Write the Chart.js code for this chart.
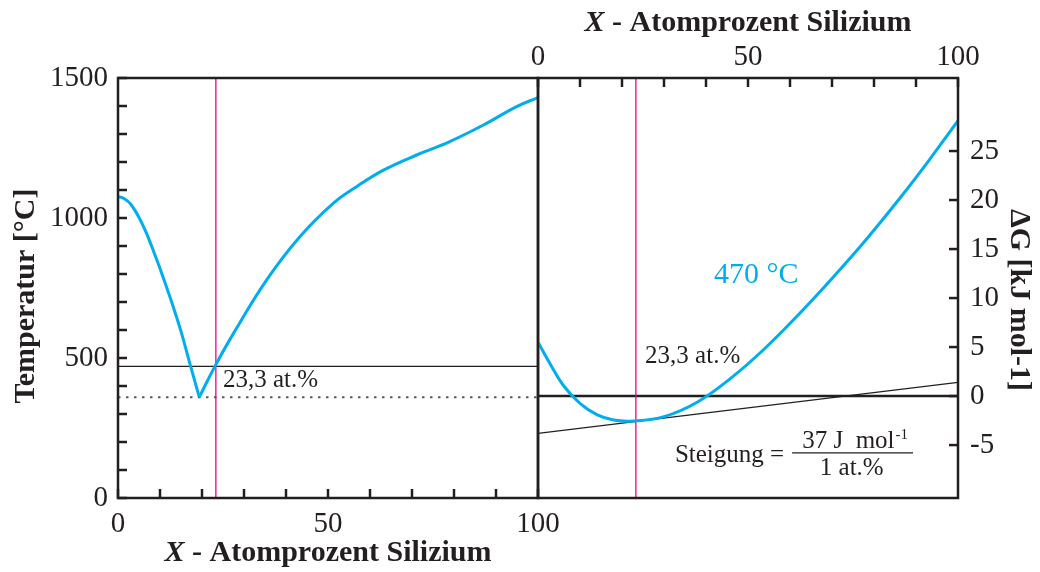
<!DOCTYPE html>
<html>
<head>
<meta charset="utf-8">
<script src="https://cdn.jsdelivr.net/npm/chart.js@4/dist/chart.umd.min.js"></script>
<style>
    html, body { margin: 0; padding: 0; background: #fff; }
    #wrap { position: relative; width: 1040px; height: 572px; }
    #wrap canvas { position: absolute; left: 0; top: 0; }
</style>
</head>
<body>
<div id="wrap">
    <canvas id="phaseChart" width="1040" height="572"></canvas>
    <canvas id="energyChart" width="1040" height="572"></canvas>
</div>
<script>
// Phase diagram (left) - liquidus split at the eutectic point
const liqGoldX = [0, 1, 2, 3, 4, 5, 6, 7, 8.5, 10, 12.5, 15, 17.3, 19.35];
const liqGoldT = [1076, 1073, 1064, 1050, 1028, 1002, 972, 938, 880, 820, 712, 595, 470, 360];
const liqSiX = [19.35, 23.1, 27.5, 35.4, 43.3, 51.3, 56.8, 63.2, 71.1, 79, 87, 94.9, 100];
const liqSiT = [360, 471, 588, 779, 933, 1053, 1112, 1171, 1225, 1273, 1332, 1398, 1430];
const isothermT = 470;
const eutecticT = 360;
const markX = 23.3;

// Free enthalpy of the melt at 470 °C (right)
const dgX = [0, 3, 6, 10, 14, 18, 22.7, 30, 38, 46, 54, 62, 70, 78, 86, 93, 100];
const dgY = [5.5, 3.2, 1.1, -0.75, -1.9, -2.45, -2.55, -2.1, -0.6, 1.85, 4.85, 8.3, 12.0, 15.9, 20.1, 24.0, 28.1];
const tangentX = [0, 100];
const tangentY = [-3.8, 1.4];

// Tick labels
const compLabels = [0, 50, 100];
const tempLabels = [0, 500, 1000, 1500];
const dgTicks = [-5, 0, 5, 10, 15, 20, 25];

const INK = '#231f20';
const CYAN = '#00aeef';
const MAGENTA = '#ec008c';
const SERIF = "'Liberation Serif', 'Times New Roman', serif";

Chart.defaults.font.family = SERIF;
Chart.defaults.color = INK;

const pts = (xs, ys) => xs.map((x, i) => ({ x, y: ys[i] }));

// fixed axis box sizes, no automatic label padding
function fixBox(size) {
    return (scale) => {
        if (scale.isHorizontal()) scale.height = size; else scale.width = size;
        scale.paddingLeft = scale.paddingRight = scale.paddingTop = scale.paddingBottom = 0;
    };
}

// frame round the plot and ticks pointing inwards
const frameTicks = {
    id: 'frameTicks',
    afterDatasetsDraw(chart) {
        const { ctx, chartArea: a } = chart;
        const len = 9;
        ctx.save();
        ctx.strokeStyle = INK;
        ctx.lineWidth = 2.5;
        Object.values(chart.scales).forEach(scale => {
            scale.ticks.forEach(t => {
                const p = scale.getPixelForValue(t.value);
                ctx.beginPath();
                if (scale.position === 'bottom') { ctx.moveTo(p, a.bottom); ctx.lineTo(p, a.bottom - len); }
                else if (scale.position === 'top') { ctx.moveTo(p, a.top); ctx.lineTo(p, a.top + len); }
                else if (scale.position === 'left') { ctx.moveTo(a.left, p); ctx.lineTo(a.left + len, p); }
                else { ctx.moveTo(a.right, p); ctx.lineTo(a.right - len, p); }
                ctx.stroke();
            });
        });
        ctx.strokeRect(a.left, a.top, a.right - a.left, a.bottom - a.top);
        ctx.restore();
    }
};

// text notes placed in data units
const notes = {
    id: 'notes',
    afterDatasetsDraw(chart, args, opts) {
        const { ctx } = chart;
        const sx = chart.scales.x, sy = chart.scales.y;
        ctx.save();
        (opts.items || []).forEach(n => {
            const py = sy.getPixelForValue(n.y);
            if (n.rule) {
                ctx.strokeStyle = INK;
                ctx.lineWidth = 1.2;
                ctx.beginPath();
                ctx.moveTo(sx.getPixelForValue(n.x), py);
                ctx.lineTo(sx.getPixelForValue(n.x2), py);
                ctx.stroke();
                return;
            }
            const px = sx.getPixelForValue(n.x);
            ctx.font = (n.size || 25) + 'px ' + SERIF;
            ctx.fillStyle = n.color || INK;
            ctx.textAlign = 'left';
            ctx.textBaseline = 'alphabetic';
            ctx.fillText(n.text, px, py);
            if (n.sup) {
                const w = ctx.measureText(n.text).width;
                ctx.font = '15px ' + SERIF;
                ctx.fillText(n.sup, px + w + 1, py - 9);
            }
        });
        ctx.restore();
    }
};

// axis titles with mixed fonts
const captions = {
    id: 'captions',
    afterDraw(chart, args, opts) {
        const { ctx, chartArea: a } = chart;
        ctx.save();
        (opts.items || []).forEach(c => {
            let x = (a.left + a.right) / 2, y = (a.top + a.bottom) / 2, rot = 0;
            if (c.side === 'bottom') y = a.bottom + c.gap;
            if (c.side === 'top') y = a.top - c.gap;
            if (c.side === 'left') { x = a.left - c.gap; y += c.shift || 0; rot = -Math.PI / 2; }
            if (c.side === 'right') { x = a.right + c.gap; y += c.shift || 0; rot = Math.PI / 2; }
            ctx.save();
            ctx.translate(x, y);
            ctx.rotate(rot);
            ctx.fillStyle = INK;
            ctx.textBaseline = 'middle';
            ctx.textAlign = 'left';
            let total = 0;
            c.parts.forEach(p => { ctx.font = p.font; total += ctx.measureText(p.text).width; });
            let cur = -total / 2;
            c.parts.forEach(p => {
                ctx.font = p.font;
                ctx.fillText(p.text, cur, 0);
                cur += ctx.measureText(p.text).width;
            });
            ctx.restore();
        });
        ctx.restore();
    }
};

const compTitle = [
    { text: 'X', font: 'italic bold 30px ' + SERIF },
    { text: ' - Atomprozent Silizium', font: 'bold 30px ' + SERIF }
];

const tickFont = { size: 29 };

// Left: phase diagram
new Chart(document.getElementById('phaseChart'), {
    type: 'line',
    data: {
        datasets: [
            { data: pts(liqGoldX, liqGoldT), borderColor: CYAN, borderWidth: 3, cubicInterpolationMode: 'monotone' },
            { data: pts(liqSiX, liqSiT), borderColor: CYAN, borderWidth: 3, tension: 0.4 },
            { data: pts([markX, markX], [0, 1500]), borderColor: MAGENTA, borderWidth: 1.3 },
            { data: pts([0, 100], [isothermT, isothermT]), borderColor: INK, borderWidth: 1.3 },
            { data: pts([0, 100], [eutecticT, eutecticT]), borderColor: '#58595b', borderWidth: 2, borderDash: [2.5, 5.5] }
        ]
    },
    options: {
        responsive: false,
        animation: false,
        devicePixelRatio: 1,
        layout: { padding: { left: 0, top: 78, right: 502, bottom: 0 } },
        elements: { point: { radius: 0 } },
        plugins: {
            legend: { display: false },
            tooltip: { enabled: false },
            notes: { items: [{ x: 25, y: 396, text: '23,3 at.%' }] },
            captions: {
                items: [
                    { side: 'bottom', gap: 55, parts: compTitle },
                    { side: 'left', gap: 92, shift: 8, parts: [{ text: 'Temperatur [°C]', font: 'bold 30px ' + SERIF }] }
                ]
            }
        },
        scales: {
            x: {
                type: 'linear', position: 'bottom', min: 0, max: 100,
                grid: { display: false, drawTicks: false },
                border: { display: false },
                ticks: {
                    stepSize: 10, autoSkip: false, maxRotation: 0, padding: 9, font: tickFont,
                    callback: v => compLabels.includes(v) ? v : ''
                },
                afterFit: fixBox(74)
            },
            y: {
                type: 'linear', position: 'left', min: 0, max: 1500,
                grid: { display: false, drawTicks: false },
                border: { display: false },
                ticks: {
                    stepSize: 100, autoSkip: false, padding: 10, font: tickFont,
                    callback: v => tempLabels.includes(v) ? v : ''
                },
                afterFit: fixBox(118)
            }
        }
    },
    plugins: [frameTicks, notes, captions]
});

// Right: ΔG at 470 °C
new Chart(document.getElementById('energyChart'), {
    type: 'line',
    data: {
        datasets: [
            { data: pts(dgX, dgY), borderColor: CYAN, borderWidth: 3, tension: 0.4 },
            { data: pts(tangentX, tangentY), borderColor: INK, borderWidth: 1.3 },
            { data: pts([markX, markX], [-10.4, 32.45]), borderColor: MAGENTA, borderWidth: 1.3 },
            { data: pts([0, 100], [0, 0]), borderColor: INK, borderWidth: 2.5 }
        ]
    },
    options: {
        responsive: false,
        animation: false,
        devicePixelRatio: 1,
        layout: { padding: { left: 538, top: 0, right: 0, bottom: 74 } },
        elements: { point: { radius: 0 } },
        plugins: {
            legend: { display: false },
            tooltip: { enabled: false },
            notes: {
                items: [
                    { x: 25.5, y: 3.37, text: '23,3 at.%' },
                    { x: 41.9, y: 11.5, text: '470 °C', size: 30, color: CYAN },
                    { x: 32.6, y: -6.73, text: 'Steigung =' },
                    { x: 62.9, y: -5.31, text: '37 J  mol', sup: '-1' },
                    { rule: true, x: 60.5, x2: 89.3, y: -5.79 },
                    { x: 67.1, y: -8.06, text: '1 at.%' }
                ]
            },
            captions: {
                items: [
                    { side: 'top', gap: 55, parts: compTitle },
                    { side: 'right', gap: 61, shift: 12, parts: [{ text: 'ΔG [kJ mol-1]', font: 'bold 30px ' + SERIF }] }
                ]
            }
        },
        scales: {
            x: {
                type: 'linear', position: 'top', min: 0, max: 100,
                grid: { display: false, drawTicks: false },
                border: { display: false },
                ticks: {
                    stepSize: 10, autoSkip: false, maxRotation: 0, padding: 3, font: tickFont,
                    callback: v => compLabels.includes(v) ? v : ''
                },
                afterFit: fixBox(78)
            },
            y: {
                type: 'linear', position: 'right', min: -10.4, max: 32.45,
                grid: { display: false, drawTicks: false },
                border: { display: false },
                ticks: { autoSkip: false, padding: 12, font: tickFont, callback: v => v },
                afterBuildTicks: scale => { scale.ticks = dgTicks.map(v => ({ value: v })); },
                afterFit: fixBox(82)
            }
        }
    },
    plugins: [frameTicks, notes, captions]
});
</script>
</body>
</html>
